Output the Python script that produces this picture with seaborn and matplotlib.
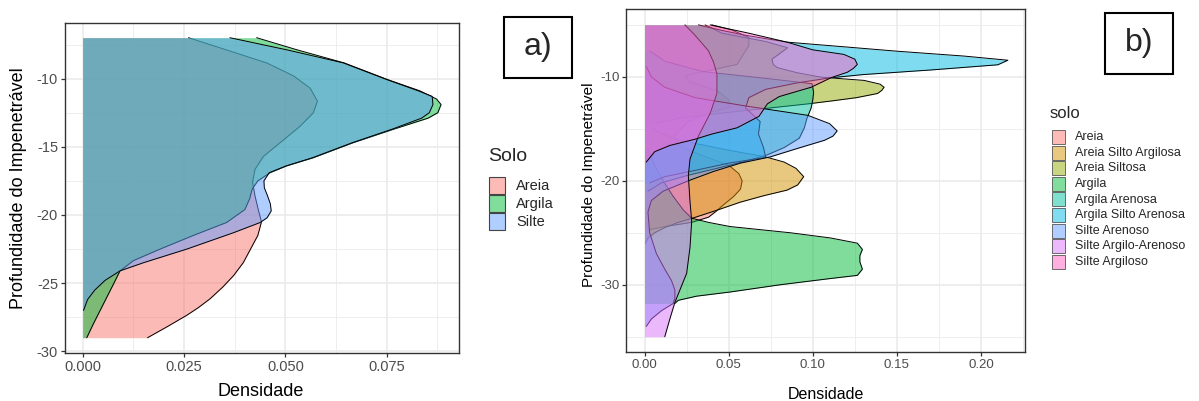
import matplotlib
matplotlib.use("Agg")
import matplotlib.pyplot as plt
from matplotlib.patches import Rectangle
import seaborn as sns

# ---------------- data: panel a (depth, density) ----------------
A_LEGEND_TITLE = "Solo"
A_SOLOS = ["Areia", "Argila", "Silte"]
A_COLORS = ["#F8766D", "#00BA38", "#619CFF"]

a_areia_depth = [-7.0, -7.9, -8.85, -9.8, -10.7, -11.65, -12.5, -13.5, -14.7, -15.7, -16.65, -17.6,
                 -18.6, -19.6, -20.5, -21.5, -22.5, -23.5, -24.45, -25.3, -26.15, -26.8, -27.35, -28.2, -29.0]
a_areia_dens = [0.0261, 0.0355, 0.0454, 0.0520, 0.0561, 0.0579, 0.0569, 0.0536, 0.0487, 0.0446, 0.0425, 0.0419,
                0.0425, 0.0433, 0.0441, 0.0432, 0.0414, 0.0396, 0.0372, 0.0345, 0.0314, 0.0285, 0.0257, 0.0208, 0.0160]

a_argila_depth = [-7.0, -7.9, -8.85, -10.07, -10.9, -11.5, -11.9, -12.5, -12.9, -13.7, -14.7, -15.8, -16.4,
                  -16.9, -17.5, -18.1, -18.8, -19.6, -20.55, -21.5, -22.5, -23.35, -24.1, -25.0, -26.0, -27.0,
                  -28.0, -29.0]
a_argila_dens = [0.0429, 0.0530, 0.0645, 0.0752, 0.0832, 0.0873, 0.0884, 0.0876, 0.0852, 0.0768, 0.0667, 0.0569,
                 0.0503, 0.0462, 0.0432, 0.0418, 0.0412, 0.0400, 0.0355, 0.0273, 0.0191, 0.0125, 0.0092, 0.0077,
                 0.0060, 0.0043, 0.0026, 0.0010]

a_silte_depth = [-7.0, -7.9, -8.85, -10.07, -10.9, -11.3, -11.9, -12.5, -12.9, -13.7, -14.7, -15.8, -16.4,
                 -16.9, -17.5, -18.0, -18.6, -19.2, -19.7, -20.2, -20.55, -21.3, -22.5, -23.5, -24.1, -24.8,
                 -25.5, -26.2, -27.0]
a_silte_dens = [0.0363, 0.0505, 0.0643, 0.0750, 0.0828, 0.0862, 0.0864, 0.0855, 0.0836, 0.0764, 0.0665, 0.0567,
                0.0502, 0.0460, 0.0447, 0.0448, 0.0456, 0.0463, 0.0465, 0.0455, 0.0438, 0.0372, 0.0257, 0.0150,
                0.0092, 0.0055, 0.0030, 0.0012, 0.0002]

A_X_TICKS = [0.0, 0.025, 0.05, 0.075]
A_X_TICK_LABELS = ["0.000", "0.025", "0.050", "0.075"]
A_Y_TICKS = [-30, -25, -20, -15, -10]
A_Y_TICK_LABELS = ["-30", "-25", "-20", "-15", "-10"]

# ---------------- data: panel b ----------------
B_LEGEND_TITLE = "solo"
B_SOLOS = ["Areia", "Areia Silto Argilosa", "Areia Siltosa", "Argila", "Argila Arenosa",
           "Argila Silto Arenosa", "Silte Arenoso", "Silte Argilo-Arenoso", "Silte Argiloso"]
B_COLORS = ["#F8766D", "#D39200", "#93AA00", "#00BA38", "#00C19F",
            "#00B9E3", "#619CFF", "#DB72FB", "#FF61C3"]

b_areia_depth = [-5.0, -5.5, -6.2, -7.0, -8.0, -8.8, -9.4, -9.9, -10.5, -11.3, -12.2, -12.9, -13.5, -14.4,
                 -15.7, -16.6, -17.5, -18.5, -19.3, -20.0, -20.8, -21.5, -22.3, -23.0, -23.5, -24.0, -24.4, -24.7]
b_areia_dens = [0.040, 0.052, 0.062, 0.062, 0.058, 0.055, 0.038, 0.024, 0.027, 0.043, 0.050, 0.051, 0.037, 0.025,
                0.018, 0.020, 0.033, 0.050, 0.056, 0.058, 0.057, 0.053, 0.047, 0.042, 0.038, 0.028, 0.012, 0.003]

b_asa_depth = [-15.0, -16.0, -17.0, -17.7, -18.2, -18.8, -19.6, -20.4, -20.9, -21.44, -22.06, -22.84, -23.47,
               -24.0, -24.5, -25.0, -25.5, -26.0]
b_asa_dens = [0.004, 0.018, 0.048, 0.072, 0.083, 0.090, 0.0946, 0.091, 0.0846, 0.0707, 0.0568, 0.0428, 0.0309,
              0.020, 0.012, 0.006, 0.002, 0.0005]

b_as_depth = [-5.0, -5.8, -6.6, -7.2, -7.8, -8.3, -8.8, -9.1, -9.6, -10.03, -10.34, -10.7, -11.0, -11.3, -11.6,
              -12.0, -12.3, -12.6, -13.0, -13.5, -14.0, -14.5]
b_as_dens = [0.036, 0.046, 0.072, 0.085, 0.080, 0.0757, 0.0765, 0.0787, 0.0906, 0.105, 0.1305, 0.140, 0.1424,
             0.141, 0.1385, 0.126, 0.112, 0.097, 0.074, 0.045, 0.020, 0.006]

b_argila_depth = [-17.0, -18.5, -20.0, -21.5, -22.8, -23.6, -24.0, -24.4, -25.0, -25.5, -26.0, -26.6, -27.2,
                  -27.8, -28.5, -29.1, -29.4, -30.0, -30.7, -31.1, -31.5, -31.8]
b_argila_dens = [0.002, 0.006, 0.011, 0.017, 0.023, 0.028, 0.038, 0.0508, 0.0867, 0.1106, 0.1265, 0.1295, 0.128,
                 0.128, 0.1295, 0.1265, 0.1106, 0.0807, 0.0508, 0.0309, 0.020, 0.018]

b_aa_depth = [-7.5, -8.5, -9.5, -10.2, -10.66, -11.5, -12.2, -13.0, -14.0, -14.9, -15.9, -16.8, -17.5, -18.2,
              -18.8, -19.5, -20.2, -21.0]
b_aa_dens = [0.003, 0.012, 0.035, 0.075, 0.0996, 0.1005, 0.100, 0.099, 0.0965, 0.095, 0.092, 0.083, 0.073, 0.058,
             0.043, 0.025, 0.010, 0.002]

b_asil_depth = [-5.0, -5.5, -6.0, -6.66, -7.1, -7.53, -8.0, -8.4, -8.84, -9.34, -9.78, -10.1, -10.6, -11.2, -12.0,
                -13.0, -14.3, -15.5, -16.8, -17.75, -18.3, -19.0, -19.6, -20.2]
b_asil_dens = [0.032, 0.045, 0.060, 0.0847, 0.118, 0.150, 0.190, 0.216, 0.210, 0.170, 0.130, 0.110, 0.090, 0.072,
               0.062, 0.060, 0.0687, 0.0677, 0.0707, 0.072, 0.050, 0.030, 0.012, 0.003]

b_sar_depth = [-9.0, -10.0, -11.0, -12.0, -12.8, -13.7, -14.5, -15.2, -15.7, -16.1, -16.9, -17.7, -18.3, -19.1,
               -20.0, -21.0, -21.9, -23.0, -25.0, -27.0, -28.5, -29.6, -30.5, -31.3, -31.8, -32.5, -33.3, -34.0]
b_sar_dens = [0.001, 0.004, 0.012, 0.030, 0.060, 0.097, 0.110, 0.1145, 0.112, 0.107, 0.0906, 0.0747, 0.057, 0.041,
              0.026, 0.011, 0.004, 0.002, 0.003, 0.007, 0.012, 0.016, 0.018, 0.018, 0.017, 0.010, 0.004, 0.001]

b_saa_depth = [-5.0, -6.0, -7.5, -8.6, -9.7, -11.6, -13.5, -15.7, -17.9, -19.5, -22.0, -23.9, -26.4, -28.9,
               -30.5, -31.7, -33.3, -35.0]
b_saa_dens = [0.024, 0.030, 0.038, 0.041, 0.043, 0.043, 0.039, 0.032, 0.027, 0.026, 0.027, 0.028, 0.027, 0.025,
              0.021, 0.018, 0.015, 0.012]

b_sag_depth = [-5.0, -5.8, -6.66, -7.4, -7.84, -8.3, -8.8, -9.2, -9.56, -10.07, -11.0, -11.9, -12.6, -13.8,
               -14.9, -15.5, -16.0, -16.6, -17.2, -18.2]
b_sag_dens = [0.039, 0.062, 0.0847, 0.100, 0.1185, 0.125, 0.1265, 0.124, 0.1205, 0.111, 0.099, 0.080, 0.073,
              0.068, 0.055, 0.040, 0.030, 0.015, 0.006, 0.001]

B_X_TICKS = [0.0, 0.05, 0.10, 0.15, 0.20]
B_X_TICK_LABELS = ["0.00", "0.05", "0.10", "0.15", "0.20"]
B_Y_TICKS = [-30, -20, -10]
B_Y_TICK_LABELS = ["-30", "-20", "-10"]

X_TITLE = "Densidade"
Y_TITLE = "Profundidade do Impenetrável"

# ---------------- figure ----------------
sns.set_theme(style="whitegrid")
plt.rcParams['font.family'] = ['Liberation Sans', 'DejaVu Sans']
plt.rcParams['axes.unicode_minus'] = False

W, H = 1199, 401
fig = plt.figure(figsize=(W / 100, H / 100), dpi=100)


def fig_box(x0, y0, x1, y1):
    return [x0 / W, 1 - y1 / H, (x1 - x0) / W, (y1 - y0) / H]


def draw_density(ax, depth, dens, color, k):
    ax.fill_betweenx(depth, 0, dens, color=color, alpha=0.5, linewidth=0, zorder=3 + 2 * k)
    sns.lineplot(x=dens, y=depth, sort=False, orient="y", estimator=None, color="black",
                 linewidth=0.7, ax=ax)
    ax.lines[-1].set_zorder(4 + 2 * k)


def style_axes(ax, xticks, xlabels, yticks, ylabels, xminor, yminor, fs_tick):
    ax.set_facecolor("white")
    ax.set_xticks(xticks)
    ax.set_xticklabels(xlabels)
    ax.set_yticks(yticks)
    ax.set_yticklabels(ylabels)
    ax.set_xticks(xminor, minor=True)
    ax.set_yticks(yminor, minor=True)
    ax.grid(which="major", color="#EBEBEB", linewidth=1.2, zorder=0)
    ax.grid(which="minor", color="#EBEBEB", linewidth=0.6, zorder=0)
    ax.set_axisbelow(True)
    for s in ax.spines.values():
        s.set_color("#333333")
        s.set_linewidth(1.0)
        s.set_zorder(50)
    ax.tick_params(which="major", length=3, width=0.9, color="#333333", labelcolor="#4D4D4D",
                   labelsize=fs_tick, pad=2, left=True, bottom=True)
    ax.tick_params(which="minor", length=0)
    ax.set_xlabel("")
    ax.set_ylabel("")


# ---- panel a ----
ax_a = fig.add_axes(fig_box(65, 22.7, 458.5, 352.7))
a_series = [(a_areia_depth, a_areia_dens), (a_argila_depth, a_argila_dens), (a_silte_depth, a_silte_dens)]
for k, ((d, v), c) in enumerate(zip(a_series, A_COLORS)):
    draw_density(ax_a, d, v, c, k)
ax_a.set_xlim(-0.00437, 0.0927)
ax_a.set_ylim(-30.1, -5.9)
style_axes(ax_a, A_X_TICKS, A_X_TICK_LABELS, A_Y_TICKS, A_Y_TICK_LABELS,
           [0.0125, 0.0375, 0.0625, 0.0875], [-27.5, -22.5, -17.5, -12.5, -7.5], 10.5)
ax_a.text(-0.117, 0.50, Y_TITLE, transform=ax_a.transAxes, rotation=90, ha="center", va="center",
          fontsize=13, color="black")
ax_a.text(0.498, -0.118, X_TITLE, transform=ax_a.transAxes, ha="center", va="center",
          fontsize=13, color="black")

# ---- panel b ----
ax_b = fig.add_axes(fig_box(626.2, 9.3, 1025.2, 352.3))
b_series = [(b_areia_depth, b_areia_dens), (b_asa_depth, b_asa_dens), (b_as_depth, b_as_dens),
            (b_argila_depth, b_argila_dens), (b_aa_depth, b_aa_dens), (b_asil_depth, b_asil_dens),
            (b_sar_depth, b_sar_dens), (b_saa_depth, b_saa_dens), (b_sag_depth, b_sag_dens)]
for k, ((d, v), c) in enumerate(zip(b_series, B_COLORS)):
    draw_density(ax_b, d, v, c, k)
ax_b.set_xlim(-0.01094, 0.2263)
ax_b.set_ylim(-36.5, -3.5)
style_axes(ax_b, B_X_TICKS, B_X_TICK_LABELS, B_Y_TICKS, B_Y_TICK_LABELS,
           [0.025, 0.075, 0.125, 0.175, 0.225], [-35, -25, -15, -5], 9.5)
ax_b.text(-0.092, 0.488, Y_TITLE, transform=ax_b.transAxes, rotation=90, ha="center", va="center",
          fontsize=11, color="black")
ax_b.text(0.50, -0.122, X_TITLE, transform=ax_b.transAxes, ha="center", va="center",
          fontsize=11.5, color="black")


# ---- legends (drawn in figure pixels) ----
def add_rect(x0, y0, x1, y1, face, edge, lw, alpha=1.0):
    r = Rectangle((x0 / W, 1 - y1 / H), (x1 - x0) / W, (y1 - y0) / H, transform=fig.transFigure,
                  facecolor=face, edgecolor=edge, linewidth=lw, alpha=alpha)
    fig.add_artist(r)


def light(c):
    c = c.lstrip("#")
    r, g, b = int(c[0:2], 16), int(c[2:4], 16), int(c[4:6], 16)
    return ((r + 255) / 510, (g + 255) / 510, (b + 255) / 510)


fig.text(488 / W, 1 - 157 / H, A_LEGEND_TITLE, fontsize=14, ha="left", va="center")
for i, (name, c) in enumerate(zip(A_SOLOS, A_COLORS)):
    y0 = 177 + i * 18.2
    add_rect(489, y0, 505, y0 + 16.5, light(c), "#444444", 0.8)
    fig.text(516 / W, 1 - (y0 + 8.5) / H, name, fontsize=10.5, ha="left", va="center")

fig.text(1050 / W, 1 - 113 / H, B_LEGEND_TITLE, fontsize=12, ha="left", va="center")
for i, (name, c) in enumerate(zip(B_SOLOS, B_COLORS)):
    y0 = 130 + i * 15.6
    add_rect(1052, y0, 1065, y0 + 14, light(c), "#555555", 0.6)
    fig.text(1075 / W, 1 - (y0 + 7.2) / H, name, fontsize=9, ha="left", va="center")

# ---- panel tags ----
add_rect(504, 17, 572, 78, "white", "black", 1.5)
fig.text(538 / W, 1 - 47.5 / H, "a)", fontsize=23, ha="center", va="center")
add_rect(1105, 13, 1173, 74, "white", "black", 1.5)
fig.text(1139 / W, 1 - 43.5 / H, "b)", fontsize=23, ha="center", va="center")

fig.savefig("out.png", dpi=100, facecolor="white")
